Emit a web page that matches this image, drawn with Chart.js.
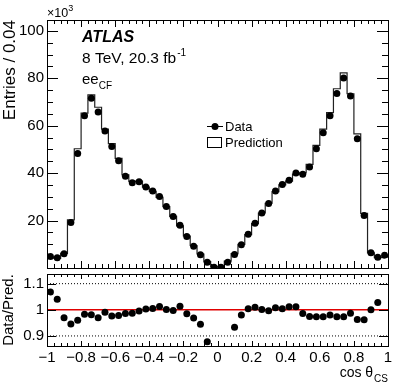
<!DOCTYPE html>
<html>
<head>
<meta charset="utf-8">
<script src="https://cdn.jsdelivr.net/npm/chart.js@4/dist/chart.umd.min.js"></script>
<style>
  html, body { margin: 0; padding: 0; background: #fff; }
  #wrap { position: relative; width: 409px; height: 392px; }
  #wrap canvas { position: absolute; left: 0; top: 0; }
</style>
</head>
<body>
<div id="wrap">
  <canvas id="main" width="409" height="392"></canvas>
  <canvas id="ratio" width="409" height="392"></canvas>
</div>
<script>
// cos theta_CS bins: 50 bins of 0.04 from -1 to 1
var binLow = -1;
var binWidth = 0.04;

// entries per bin, in units of 10^3
var dataEntries = [4.8, 4.3, 6.0, 19.2, 48.3, 64.2, 71.6, 65.8, 57.8, 51.2,
  45.2, 38.7, 36.0, 36.4, 34.2, 32.5, 30.2, 25.9, 21.7, 18.0,
  13.3, 9.2, 5.6, 2.4, 0.3, 0.3, 2.4, 5.7, 9.8, 14.2,
  18.9, 23.2, 27.2, 32.5, 35.2, 37.0, 40.1, 39.5, 42.6, 50.3,
  57.0, 64.2, 73.6, 80.1, 72.5, 54.5, 22.1, 6.4, 4.5, 5.4];

var predEntries = [4.5, 4.1, 6.2, 20.3, 50.3, 65.3, 73.0, 67.8, 58.6, 52.5,
  46.2, 39.3, 36.5, 36.6, 34.1, 32.3, 29.8, 25.9, 21.8, 17.8,
  13.5, 9.5, 5.9, 2.7, 0.5, 0.5, 2.9, 6.1, 10.0, 14.1,
  18.7, 23.2, 27.3, 32.2, 35.1, 36.6, 39.6, 40.1, 43.7, 51.7,
  58.6, 65.5, 75.6, 82.3, 73.5, 56.6, 23.0, 6.4, 4.4, 4.6];

// Data / Prediction (null = outside the ratio range)
var ratioVals = [1.068, 1.040, 0.970, 0.946, 0.960, 0.983, 0.981, 0.970, 0.991, 0.976,
  0.978, 0.986, 0.987, 0.995, 1.003, 1.005, 1.013, 1.001, 0.997, 1.014,
  0.985, 0.969, 0.945, 0.878, null, null, null, 0.933, 0.980, 1.004,
  1.010, 1.001, 0.996, 1.008, 1.004, 1.012, 1.012, 0.986, 0.974, 0.973,
  0.973, 0.980, 0.973, 0.973, 0.987, 0.963, 0.962, 1.000, 1.028, null];

var ratioRefLines = [0.9, 1.0, 1.1];

var FONT = "'Liberation Sans', Arial, Helvetica, sans-serif";

var dataPts = dataEntries.map(function (v, i) {
  return { x: binLow + binWidth * (i + 0.5), y: v };
});
var stepPts = predEntries.map(function (v, i) {
  return { x: binLow + binWidth * i, y: v };
});
stepPts.push({ x: binLow + binWidth * predEntries.length, y: predEntries[predEntries.length - 1] });
var ratioPts = ratioVals.map(function (v, i) {
  return { x: binLow + binWidth * (i + 0.5), y: v };
});

function tickValues(min, max, step) {
  var out = [];
  var n0 = Math.ceil(min / step - 1e-6), n1 = Math.floor(max / step + 1e-6);
  for (var n = n0; n <= n1; n++) out.push(n * step);
  return out;
}
function isMajor(v, major) {
  return Math.abs(v / major - Math.round(v / major)) < 1e-6;
}

// ROOT-like frame with inward ticks on all four sides
function rootFrame(xc, yc) {
  return {
    id: 'rootFrame',
    afterDraw: function (chart) {
      var ctx = chart.ctx, a = chart.chartArea;
      var sx = chart.scales.x, sy = chart.scales.y;
      ctx.save();
      ctx.strokeStyle = '#000';
      ctx.lineWidth = 1;
      ctx.beginPath();
      tickValues(sx.min, sx.max, xc.minor).forEach(function (v) {
        var len = isMajor(v, xc.major) ? xc.majLen : xc.minLen;
        var px = Math.round(sx.getPixelForValue(v)) + 0.5;
        ctx.moveTo(px, a.bottom); ctx.lineTo(px, a.bottom - len);
        ctx.moveTo(px, a.top); ctx.lineTo(px, a.top + len);
      });
      tickValues(sy.min, sy.max, yc.minor).forEach(function (v) {
        var len = isMajor(v, yc.major) ? yc.majLen : yc.minLen;
        var py = Math.round(sy.getPixelForValue(v)) + 0.5;
        ctx.moveTo(a.left, py); ctx.lineTo(a.left + len, py);
        ctx.moveTo(a.right, py); ctx.lineTo(a.right - len, py);
      });
      ctx.stroke();
      ctx.strokeRect(Math.round(a.left) + 0.5, Math.round(a.top) + 0.5,
        Math.round(a.right - a.left), Math.round(a.bottom - a.top));
      ctx.restore();
    }
  };
}

var mainLabels = {
  id: 'mainLabels',
  afterDraw: function (chart) {
    var ctx = chart.ctx;
    ctx.save();
    ctx.fillStyle = '#000';
    ctx.textBaseline = 'alphabetic';
    // x10^3
    ctx.font = '12.5px ' + FONT;
    ctx.fillText('\u00d710', 47, 17);
    var w = ctx.measureText('\u00d710').width;
    ctx.font = '9px ' + FONT;
    ctx.fillText('3', 47 + w, 11);
    // ATLAS label
    ctx.font = 'italic bold 16px ' + FONT;
    ctx.fillText('ATLAS', 82, 42);
    ctx.font = '15.5px ' + FONT;
    ctx.fillText('8 TeV, 20.3 fb', 82, 63);
    w = ctx.measureText('8 TeV, 20.3 fb').width;
    ctx.font = '10px ' + FONT;
    ctx.fillText('-1', 82 + w + 1, 56);
    ctx.font = '15px ' + FONT;
    ctx.fillText('ee', 82, 84);
    w = ctx.measureText('ee').width;
    ctx.font = '10px ' + FONT;
    ctx.fillText('CF', 82 + w, 89);
    // legend
    ctx.strokeStyle = '#000';
    ctx.lineWidth = 1;
    ctx.beginPath();
    ctx.moveTo(207, 126.5); ctx.lineTo(223, 126.5);
    ctx.stroke();
    ctx.beginPath();
    ctx.arc(215, 126.5, 3.5, 0, Math.PI * 2);
    ctx.fill();
    ctx.strokeRect(207.5, 137.5, 14, 10);
    ctx.font = '13px ' + FONT;
    ctx.textBaseline = 'middle';
    ctx.fillText('Data', 225, 127);
    ctx.fillText('Prediction', 225, 143);
    ctx.restore();
  }
};

var ratioLabels = {
  id: 'ratioLabels',
  afterDraw: function (chart) {
    var ctx = chart.ctx;
    ctx.save();
    ctx.fillStyle = '#000';
    ctx.font = '10px ' + FONT;
    var ws = ctx.measureText('CS').width;
    ctx.fillText('CS', 388 - ws, 382);
    ctx.font = '14px ' + FONT;
    var wt = ctx.measureText('cos \u03b8').width;
    ctx.fillText('cos \u03b8', 388 - ws - wt - 1, 377);
    ctx.restore();
  }
};

function fmtTick(v) {
  var r = Math.round(v * 100) / 100;
  if (Math.abs(r) < 1e-9) return '0';
  return r < 0 ? '\u2212' + String(Math.abs(r)) : String(r);
}

new Chart(document.getElementById('main'), {
  type: 'line',
  data: {
    datasets: [
      {
        label: 'Data',
        data: dataPts,
        showLine: false,
        pointRadius: 3.5,
        pointBackgroundColor: '#000',
        pointBorderWidth: 0
      },
      {
        label: 'Prediction',
        data: stepPts,
        stepped: 'before',
        borderColor: '#222',
        borderWidth: 1.2,
        pointRadius: 0,
        fill: false
      }
    ]
  },
  options: {
    responsive: false,
    animation: false,
    devicePixelRatio: 1,
    layout: { autoPadding: false, padding: { top: 20, bottom: 124, right: 21, left: 0 } },
    plugins: { legend: { display: false }, tooltip: { enabled: false } },
    scales: {
      x: { type: 'linear', display: false, min: -1, max: 1 },
      y: {
        min: 0, max: 104.6,
        grid: { display: false, drawTicks: false },
        border: { display: false },
        ticks: {
          stepSize: 20, includeBounds: false, padding: 3, color: '#000',
          font: { family: FONT, size: 15 },
          callback: function (v) { return v === 0 ? '' : String(v); }
        },
        title: {
          display: true, text: 'Entries / 0.04', align: 'end', color: '#000',
          font: { family: FONT, size: 17 }, padding: { top: 0, bottom: 0 }
        },
        afterFit: function (s) { s.width = 47; }
      }
    }
  },
  plugins: [rootFrame({ major: 0.2, minor: 0.04, majLen: 7, minLen: 4 },
                      { major: 20, minor: 5, majLen: 11, minLen: 6 }), mainLabels]
});

new Chart(document.getElementById('ratio'), {
  type: 'line',
  data: {
    datasets: [
      {
        label: 'Data/Pred.',
        data: ratioPts,
        showLine: false,
        pointRadius: 3.5,
        pointBackgroundColor: '#000',
        pointBorderWidth: 0
      },
      {
        data: [{ x: -1, y: ratioRefLines[1] }, { x: 1, y: ratioRefLines[1] }],
        borderColor: '#e00000', borderWidth: 1.5, pointRadius: 0
      },
      {
        data: [{ x: -1, y: ratioRefLines[0] }, { x: 1, y: ratioRefLines[0] }],
        borderColor: '#000', borderWidth: 1, borderDash: [1, 2], pointRadius: 0
      },
      {
        data: [{ x: -1, y: ratioRefLines[2] }, { x: 1, y: ratioRefLines[2] }],
        borderColor: '#000', borderWidth: 1, borderDash: [1, 2], pointRadius: 0
      }
    ]
  },
  options: {
    responsive: false,
    animation: false,
    devicePixelRatio: 1,
    layout: { autoPadding: false, padding: { top: 274, bottom: 0, right: 21, left: 0 } },
    plugins: { legend: { display: false }, tooltip: { enabled: false } },
    scales: {
      x: {
        type: 'linear', min: -1, max: 1,
        grid: { display: false, drawTicks: false },
        border: { display: false },
        ticks: {
          stepSize: 0.2, autoSkip: false, maxRotation: 0, padding: 3, color: '#000',
          font: { family: FONT, size: 15 },
          callback: fmtTick
        },
        afterFit: function (s) { s.height = 46; }
      },
      y: {
        min: 0.8615, max: 1.137,
        grid: { display: false, drawTicks: false },
        border: { display: false },
        ticks: {
          stepSize: 0.1, includeBounds: false, padding: 3, color: '#000',
          font: { family: FONT, size: 15 },
          callback: fmtTick
        },
        title: {
          display: true, text: 'Data/Pred.', align: 'center', color: '#000',
          font: { family: FONT, size: 15 }, padding: { top: 0, bottom: 0 }
        },
        afterFit: function (s) { s.width = 47; }
      }
    }
  },
  plugins: [rootFrame({ major: 0.2, minor: 0.04, majLen: 5, minLen: 3 },
                      { major: 0.1, minor: 0.1, majLen: 9, minLen: 9 }), ratioLabels]
});
</script>
</body>
</html>
